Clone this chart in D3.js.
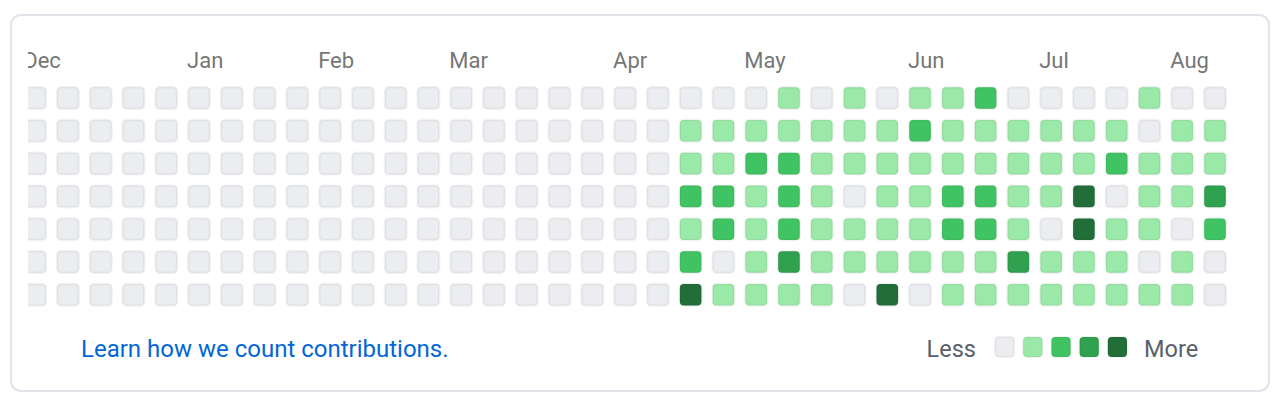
<!DOCTYPE html>
<html>
<head>
<meta charset="utf-8">
<script src="https://cdn.jsdelivr.net/npm/d3@7"></script>
<style>
  html, body { margin: 0; padding: 0; background: #ffffff; }
  svg { display: block; font-family: Roboto, "Noto Sans", sans-serif; }
</style>
</head>
<body>
<svg id="chart" width="1280" height="420"></svg>
<script>
// ---- data ----
const startDate = "2019-12-01";           // Sunday of first visible week
const weekdays = ["Sun", "Mon", "Tue", "Wed", "Thu", "Fri", "Sat"];
const levelColors = ["#ebedf0", "#9be9a8", "#40c463", "#30a14e", "#216e39"];
const legendLevels = [0, 1, 2, 3, 4];
const linkText = "Learn how we count contributions.";
const lessText = "Less";
const moreText = "More";
// activity level per week (Sun..Sat)
const weekLevels = [
  [0,0,0,0,0,0,0], [0,0,0,0,0,0,0], [0,0,0,0,0,0,0], [0,0,0,0,0,0,0],
  [0,0,0,0,0,0,0], [0,0,0,0,0,0,0], [0,0,0,0,0,0,0], [0,0,0,0,0,0,0],
  [0,0,0,0,0,0,0], [0,0,0,0,0,0,0], [0,0,0,0,0,0,0], [0,0,0,0,0,0,0],
  [0,0,0,0,0,0,0], [0,0,0,0,0,0,0], [0,0,0,0,0,0,0], [0,0,0,0,0,0,0],
  [0,0,0,0,0,0,0], [0,0,0,0,0,0,0], [0,0,0,0,0,0,0], [0,0,0,0,0,0,0],
  [0,1,1,2,1,2,4],
  [0,1,1,2,2,0,1],
  [0,1,2,1,1,1,1],
  [1,1,2,2,2,3,1],
  [0,1,1,1,1,1,1],
  [1,1,1,0,1,1,0],
  [0,1,1,1,1,1,4],
  [1,2,1,1,1,1,0],
  [1,1,1,2,2,1,1],
  [2,1,1,2,2,1,1],
  [0,1,1,1,1,3,1],
  [0,1,1,1,0,1,1],
  [0,1,1,4,4,1,1],
  [0,1,2,0,1,1,1],
  [1,0,1,1,1,0,1],
  [0,1,1,1,0,1,1],
  [0,1,1,3,2,0,0]
];

// ---- build ----
const svg = d3.select("#chart");
const parse = d3.timeParse("%Y-%m-%d");
const start = parse(startDate);
const nWeeks = weekLevels.length;
const end = d3.timeDay.offset(start, nWeeks * 7);

const days = [];
weekLevels.forEach((wk, w) => wk.forEach((lvl, d) => {
  days.push({ date: d3.timeDay.offset(start, w * 7 + d), week: w, day: d, level: lvl });
}));

const x = d3.scaleBand().domain(d3.range(nWeeks)).range([23.2, 1227]).paddingInner(0.268).paddingOuter(0);
const y = d3.scaleBand().domain(weekdays).range([86, 306.8]).paddingInner(0.268).paddingOuter(0);
const color = d3.scaleOrdinal().domain(legendLevels).range(levelColors);

// box
svg.append("rect")
  .attr("x", 11).attr("y", 15).attr("width", 1258).attr("height", 376)
  .attr("rx", 10).attr("ry", 10)
  .attr("fill", "#fff").attr("stroke", "#e1e4e8").attr("stroke-width", 2.2);

svg.append("clipPath").attr("id", "clip")
  .append("rect").attr("x", 28).attr("y", 30).attr("width", 1230).attr("height", 300);

const g = svg.append("g").attr("clip-path", "url(#clip)");

const sw = 2.4;
g.selectAll("rect.day").data(days).join("rect")
  .attr("class", "day")
  .attr("x", d => x(d.week) + sw / 2)
  .attr("y", d => y(weekdays[d.day]) + sw / 2)
  .attr("width", x.bandwidth() - sw)
  .attr("height", y.bandwidth() - sw)
  .attr("rx", 4).attr("ry", 4)
  .attr("fill", d => color(d.level))
  .attr("stroke", "rgba(27,31,35,0.06)")
  .attr("stroke-width", sw);

// month labels at the first week whose Sunday is in the month
const months = d3.timeMonths(d3.timeDay.offset(start, -1), end);
const monthFmt = d3.timeFormat("%b");
const monthData = months.map(m => {
  const firstSun = d3.timeSunday.ceil(m);
  return { label: monthFmt(m), week: d3.timeSunday.count(start, firstSun) };
}).filter(d => d.week >= 0 && d.week < nWeeks);

g.selectAll("text.month").data(monthData).join("text")
  .attr("class", "month")
  .attr("x", d => x(d.week))
  .attr("y", 68)
  .attr("font-size", 22)
  .attr("fill", "#767676")
  .text(d => d.label);

// footer
svg.append("text")
  .attr("x", 81).attr("y", 356.5)
  .attr("font-size", 24)
  .attr("fill", "#0366d6")
  .text(linkText);

const lx = d3.scaleBand().domain(legendLevels).range([994, 1128]).paddingInner(0.25).paddingOuter(0);
svg.append("text")
  .attr("x", 976).attr("y", 356.5)
  .attr("text-anchor", "end")
  .attr("font-size", 23.5)
  .attr("fill", "#586069")
  .text(lessText);
svg.selectAll("rect.legend").data(legendLevels).join("rect")
  .attr("class", "legend")
  .attr("x", d => lx(d) + 1)
  .attr("y", 337)
  .attr("width", lx.bandwidth() - 2)
  .attr("height", 20)
  .attr("rx", 4).attr("ry", 4)
  .attr("fill", d => color(d))
  .attr("stroke", "rgba(27,31,35,0.06)")
  .attr("stroke-width", 2);
svg.append("text")
  .attr("x", 1144).attr("y", 356.5)
  .attr("font-size", 23.5)
  .attr("fill", "#586069")
  .text(moreText);
</script>
</body>
</html>
